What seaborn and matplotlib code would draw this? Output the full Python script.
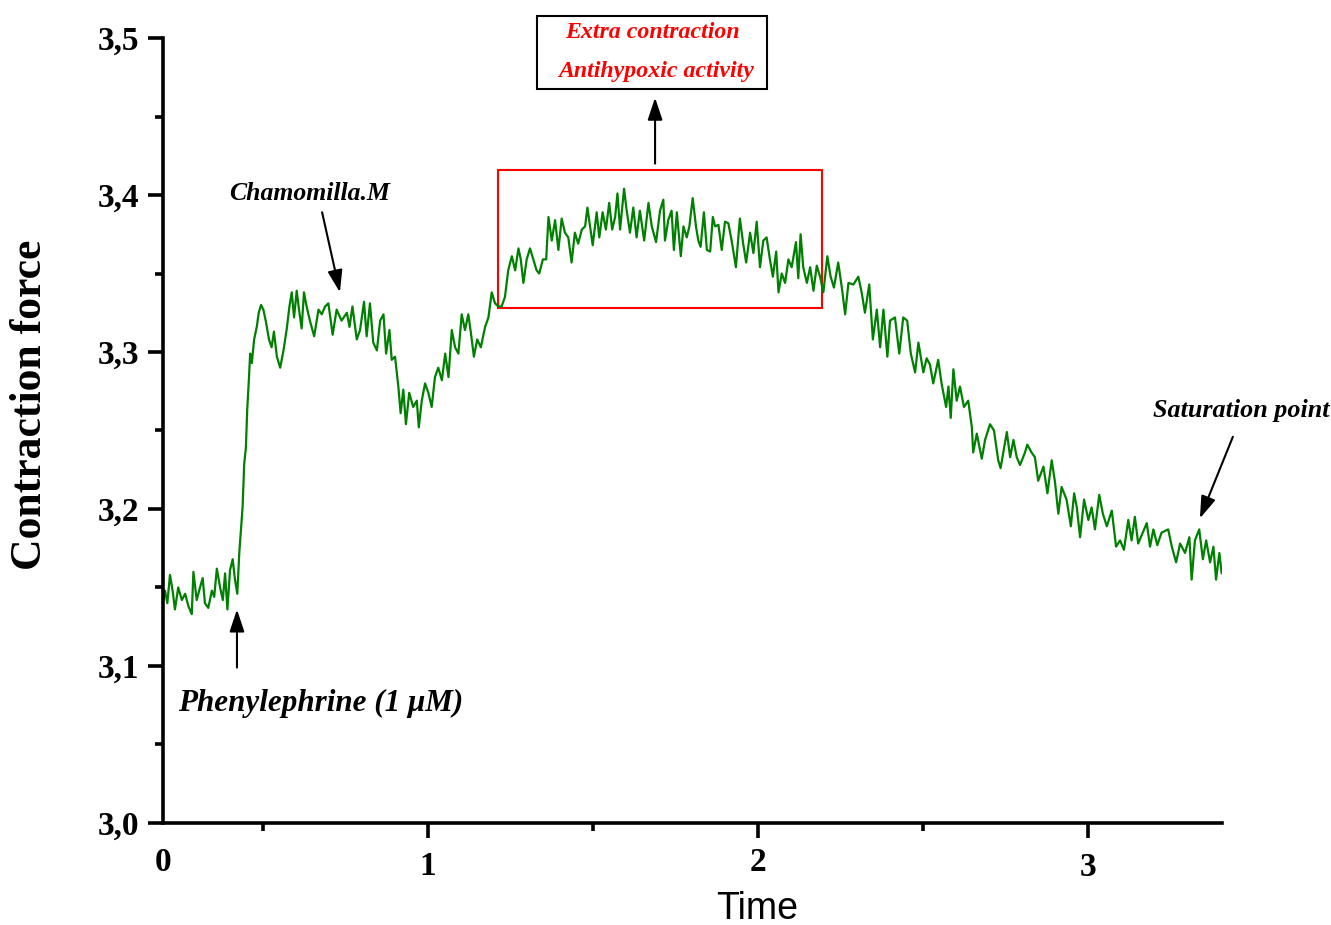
import numpy as np
import pandas as pd
import matplotlib
matplotlib.use("Agg")
import matplotlib.pyplot as plt
import seaborn as sns
from matplotlib.patches import Rectangle

# ---------------- data ----------------
time = [
    0.198, 0.203, 0.210, 0.218, 0.226, 0.233, 0.243, 0.254, 0.264, 0.274,
    0.284, 0.289, 0.299, 0.309, 0.317, 0.324, 0.334, 0.345, 0.352, 0.360,
    0.370, 0.378, 0.385, 0.392, 0.400, 0.408, 0.415, 0.422, 0.428, 0.434,
    0.438, 0.443, 0.448, 0.452, 0.457, 0.461, 0.466, 0.473, 0.481, 0.487,
    0.494, 0.501, 0.509, 0.518, 0.526, 0.533, 0.542, 0.552, 0.562, 0.572,
    0.580, 0.587, 0.594, 0.602, 0.609, 0.617, 0.624, 0.632, 0.642, 0.655,
    0.668, 0.678, 0.688, 0.698, 0.711, 0.723, 0.738, 0.754, 0.762, 0.771,
    0.784, 0.794, 0.806, 0.814, 0.824, 0.834, 0.845, 0.855, 0.865, 0.873,
    0.883, 0.890, 0.900, 0.910, 0.917, 0.925, 0.933, 0.943, 0.955, 0.966,
    0.972, 0.981, 0.991, 1.001, 1.011, 1.021, 1.031, 1.042, 1.052, 1.062,
    1.072, 1.082, 1.092, 1.102, 1.112, 1.122, 1.130, 1.139, 1.149, 1.160,
    1.173, 1.183, 1.193, 1.203, 1.213, 1.223, 1.233, 1.243, 1.254, 1.264,
    1.274, 1.281, 1.289, 1.299, 1.309, 1.319, 1.329, 1.337, 1.348, 1.358,
    1.365, 1.375, 1.385, 1.395, 1.405, 1.415, 1.425, 1.435, 1.445, 1.455,
    1.466, 1.476, 1.483, 1.491, 1.499, 1.511, 1.519, 1.529, 1.539, 1.549,
    1.558, 1.567, 1.574, 1.582, 1.594, 1.602, 1.612, 1.622, 1.632, 1.642,
    1.655, 1.668, 1.678, 1.691, 1.703, 1.713, 1.718, 1.728, 1.738, 1.745,
    1.754, 1.766, 1.774, 1.784, 1.792, 1.802, 1.812, 1.819, 1.826, 1.836,
    1.845, 1.855, 1.863, 1.870, 1.880, 1.890, 1.900, 1.910, 1.920, 1.933,
    1.945, 1.955, 1.964, 1.976, 1.986, 1.996, 2.006, 2.016, 2.026, 2.036,
    2.045, 2.055, 2.062, 2.072, 2.082, 2.092, 2.102, 2.115, 2.122, 2.129,
    2.137, 2.148, 2.158, 2.168, 2.178, 2.188, 2.198, 2.210, 2.220, 2.230,
    2.243, 2.254, 2.264, 2.274, 2.289, 2.304, 2.314, 2.324, 2.337, 2.348,
    2.360, 2.370, 2.380, 2.392, 2.400, 2.415, 2.428, 2.440, 2.452, 2.463,
    2.476, 2.486, 2.501, 2.511, 2.521, 2.531, 2.546, 2.557, 2.570, 2.577,
    2.584, 2.592, 2.602, 2.612, 2.624, 2.637, 2.648, 2.652, 2.663, 2.678,
    2.688, 2.703, 2.715, 2.728, 2.735, 2.754, 2.764, 2.774, 2.784, 2.794,
    2.809, 2.816, 2.829, 2.839, 2.849, 2.865, 2.877, 2.890, 2.900, 2.910,
    2.920, 2.935, 2.948, 2.958, 2.966, 2.976, 2.988, 3.001, 3.011, 3.021,
    3.034, 3.045, 3.057, 3.072, 3.085, 3.097, 3.109, 3.122, 3.132, 3.142,
    3.152, 3.166, 3.178, 3.188, 3.198, 3.210, 3.223, 3.243, 3.254, 3.267,
    3.279, 3.294, 3.307, 3.314, 3.324, 3.337, 3.348, 3.358, 3.370, 3.380,
    3.388, 3.398, 3.405,
]

force = [
    3.142, 3.148, 3.140, 3.158, 3.148, 3.136, 3.150, 3.142, 3.146, 3.138,
    3.133, 3.160, 3.142, 3.150, 3.156, 3.140, 3.137, 3.148, 3.144, 3.162,
    3.150, 3.142, 3.159, 3.136, 3.161, 3.168, 3.155, 3.146, 3.172, 3.189,
    3.201, 3.229, 3.239, 3.263, 3.282, 3.299, 3.293, 3.308, 3.316, 3.325,
    3.330, 3.327, 3.319, 3.308, 3.303, 3.313, 3.297, 3.290, 3.301, 3.315,
    3.329, 3.338, 3.322, 3.339, 3.327, 3.315, 3.338, 3.329, 3.320, 3.310,
    3.327, 3.324, 3.329, 3.331, 3.311, 3.327, 3.320, 3.325, 3.316, 3.329,
    3.308, 3.314, 3.332, 3.310, 3.331, 3.306, 3.301, 3.320, 3.324, 3.299,
    3.314, 3.295, 3.297, 3.278, 3.261, 3.276, 3.254, 3.274, 3.265, 3.269,
    3.252, 3.269, 3.280, 3.274, 3.265, 3.284, 3.290, 3.282, 3.299, 3.284,
    3.314, 3.303, 3.299, 3.324, 3.314, 3.324, 3.312, 3.297, 3.308, 3.303,
    3.316, 3.322, 3.338, 3.331, 3.329, 3.329, 3.335, 3.352, 3.361, 3.352,
    3.366, 3.359, 3.344, 3.359, 3.366, 3.359, 3.352, 3.350, 3.359, 3.359,
    3.386, 3.371, 3.384, 3.365, 3.385, 3.376, 3.373, 3.357, 3.376, 3.369,
    3.378, 3.380, 3.392, 3.380, 3.368, 3.389, 3.373, 3.389, 3.378, 3.395,
    3.378, 3.386, 3.401, 3.378, 3.404, 3.390, 3.376, 3.392, 3.373, 3.390,
    3.371, 3.395, 3.380, 3.370, 3.390, 3.397, 3.371, 3.384, 3.390, 3.365,
    3.389, 3.361, 3.380, 3.373, 3.380, 3.398, 3.380, 3.371, 3.367, 3.389,
    3.365, 3.364, 3.386, 3.380, 3.381, 3.365, 3.383, 3.382, 3.371, 3.354,
    3.385, 3.369, 3.357, 3.376, 3.363, 3.383, 3.354, 3.371, 3.373, 3.359,
    3.348, 3.364, 3.338, 3.350, 3.344, 3.359, 3.354, 3.370, 3.347, 3.375,
    3.354, 3.344, 3.354, 3.339, 3.355, 3.348, 3.338, 3.361, 3.348, 3.341,
    3.357, 3.341, 3.324, 3.344, 3.343, 3.348, 3.338, 3.325, 3.343, 3.308,
    3.327, 3.303, 3.327, 3.297, 3.320, 3.322, 3.299, 3.322, 3.320, 3.299,
    3.287, 3.306, 3.287, 3.296, 3.292, 3.280, 3.295, 3.279, 3.265, 3.278,
    3.258, 3.289, 3.269, 3.278, 3.265, 3.269, 3.252, 3.236, 3.248, 3.232,
    3.244, 3.254, 3.250, 3.231, 3.226, 3.249, 3.233, 3.244, 3.233, 3.228,
    3.236, 3.241, 3.236, 3.233, 3.218, 3.227, 3.210, 3.231, 3.217, 3.197,
    3.214, 3.206, 3.189, 3.210, 3.201, 3.182, 3.206, 3.193, 3.201, 3.187,
    3.209, 3.197, 3.189, 3.199, 3.176, 3.180, 3.174, 3.193, 3.180, 3.195,
    3.178, 3.185, 3.191, 3.176, 3.187, 3.177, 3.185, 3.187, 3.176, 3.166,
    3.178, 3.172, 3.182, 3.155, 3.180, 3.187, 3.168, 3.180, 3.166, 3.176,
    3.155, 3.172, 3.159,
]

x_tick_pos = [0.197, 1, 2, 3]
x_tick_labels = ["0", "1", "2", "3"]
x_minor = [0.5, 1.5, 2.5]
y_ticks = [3.0, 3.1, 3.2, 3.3, 3.4, 3.5]
y_tick_labels = ["3,0", "3,1", "3,2", "3,3", "3,4", "3,5"]
y_minor = [3.05, 3.15, 3.25, 3.35, 3.45]

# ---------------- style ----------------
sns.set_style("ticks")
plt.rcParams["font.family"] = ["Liberation Serif", "DejaVu Serif"]
plt.rcParams["text.color"] = "black"
plt.rcParams["axes.labelcolor"] = "black"
plt.rcParams["xtick.color"] = "black"
plt.rcParams["ytick.color"] = "black"
plt.rcParams["axes.edgecolor"] = "black"

fig = plt.figure(figsize=(13.31, 9.25), dpi=100)
ax = fig.add_axes([0.1225, 0.1103, 0.7956, 0.8486])

df = pd.DataFrame({"Time": time, "Force": force})
sns.lineplot(data=df, x="Time", y="Force", ax=ax, color="#008000",
             linewidth=1.6, estimator=None, sort=False)

ax.set_xlim(0.197, 3.406)
ax.set_ylim(3.0, 3.5)
for s in ["top", "right"]:
    ax.spines[s].set_visible(False)
for s in ["left", "bottom"]:
    ax.spines[s].set_linewidth(2.6)
    ax.spines[s].set_color("black")

ax.set_xticks(x_tick_pos)
ax.set_xticklabels(x_tick_labels)
ax.set_xticks(x_minor, minor=True)
ax.set_yticks(y_ticks)
ax.set_yticklabels(y_tick_labels)
ax.set_yticks(y_minor, minor=True)
ax.tick_params(axis="both", which="major", direction="out", length=11,
               width=2.6, labelsize=24, pad=6, color="black",
               labelcolor="black")
ax.tick_params(axis="both", which="minor", direction="out", length=5.5,
               width=2.6, color="black")
for lbl in ax.get_xticklabels() + ax.get_yticklabels():
    lbl.set_fontweight("bold")
xt = ax.xaxis.get_major_ticks()
xt[0].tick1line.set_visible(False)
xt[1].set_pad(9)
xt[3].set_pad(10)

ax.set_xlabel("Time", fontfamily="Liberation Sans", fontsize=27,
              color="black")
ax.xaxis.set_label_coords(0.561, -0.087)
ax.set_ylabel("")
fig.text(30 / 1331, 1 - 405 / 925, "Contraction force", rotation=90,
         ha="center", va="center", fontsize=31.5, fontweight="bold",
         color="black")

arrow_kw = dict(arrowstyle="-|>,head_length=0.9,head_width=0.3",
                color="black", lw=1.5, mutation_scale=15,
                shrinkA=0, shrinkB=0)

# red highlight box and arrow up
ax.add_patch(Rectangle((1.212, 3.328), 2.194 - 1.212, 3.416 - 3.328,
                       fill=False, edgecolor="red", lw=1.5))
ax.annotate("", xy=(1.688, 3.462), xytext=(1.688, 3.420),
            arrowprops=arrow_kw, annotation_clip=False)

# boxed red text at the top
fig.add_artist(Rectangle((537 / 1331, 1 - 89 / 925), 230 / 1331, 73 / 925,
                         transform=fig.transFigure, fill=False,
                         edgecolor="black", lw=1.5))
fig.text(652 / 1331, 1 - 33 / 925, "Extra contraction", color="red",
         fontsize=17.2, fontweight="bold", fontstyle="italic",
         ha="center", va="center")
fig.text(656 / 1331, 1 - 72 / 925, "Antihypoxic activity", color="red",
         fontsize=17.2, fontweight="bold", fontstyle="italic",
         ha="center", va="center")

# Chamomilla
ax.text(0.642, 3.401, "Chamomilla.M", fontsize=18.5, fontweight="bold",
        fontstyle="italic", ha="center", va="center")
ax.annotate("", xy=(0.733, 3.338), xytext=(0.679, 3.389),
            arrowprops=arrow_kw)

# Phenylephrine
ax.text(0.676, 3.076, "Phenylephrine (1 \u03bcM)", fontsize=22.4,
        fontweight="bold", fontstyle="italic", ha="center", va="center")
ax.annotate("", xy=(0.421, 3.136), xytext=(0.421, 3.099),
            arrowprops=arrow_kw)

# Saturation point
ax.text(3.464, 3.263, "Saturation point", fontsize=18.8, fontweight="bold",
        fontstyle="italic", ha="center", va="center", clip_on=False)
ax.annotate("", xy=(3.339, 3.194), xytext=(3.439, 3.246),
            arrowprops=arrow_kw, annotation_clip=False)

fig.savefig("out.png", dpi=100)
